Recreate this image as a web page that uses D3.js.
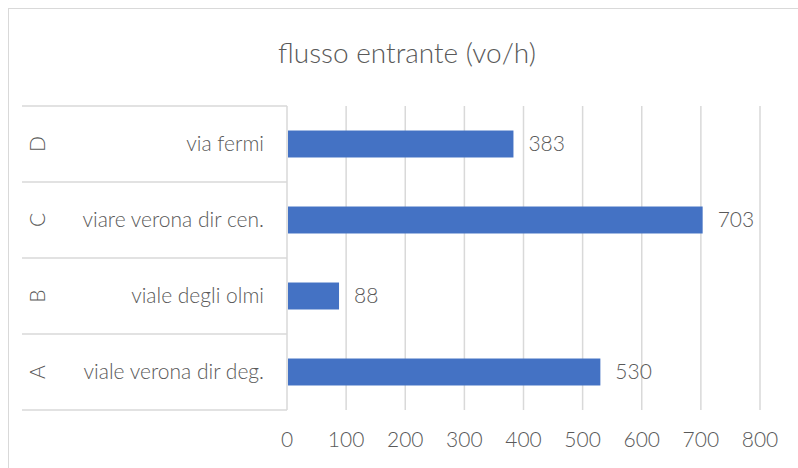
<!DOCTYPE html>
<html>
<head>
<meta charset="utf-8">
<script src="https://cdn.jsdelivr.net/npm/d3@7"></script>
<style>
  body { margin: 0; background: #fff; }
  text { font-family: Lato, "Open Sans", sans-serif; font-weight: 300; fill: #595959; }
</style>
</head>
<body>
<svg id="chart" width="798" height="468"></svg>
<script>
var groups = ["A", "B", "C", "D"];
var names = ["viale verona dir deg.", "viale degli olmi", "viare verona dir cen.", "via fermi"];
var values = [530, 88, 703, 383];
var ticks = [0, 100, 200, 300, 400, 500, 600, 700, 800];

var svg = d3.select("#chart");
var plotLeft = 287, plotRight = 760, plotTop = 106, plotBottom = 410, tableLeft = 22;

svg.append("rect")
    .attr("x", 8.5).attr("y", 8.5)
    .attr("width", 820).attr("height", 500)
    .attr("fill", "none")
    .attr("stroke", "#d9d9d9");

svg.append("text")
    .attr("x", 407).attr("y", 63)
    .attr("font-size", "28px")
    .style("text-anchor", "middle")
    .text("flusso entrante (vo/h)");

var x = d3.scaleLinear().domain([0, 800]).range([plotLeft, plotRight]);

var rows = groups.map((g, i) => ({ group: g, name: names[i], value: values[i] })).reverse();

var y = d3.scaleBand()
    .domain(rows.map(d => d.group))
    .range([plotTop, plotBottom])
    .paddingInner(0.645)
    .paddingOuter(0.3225);

var step = y.step();

// gridlines
svg.append("g")
  .selectAll("line")
  .data(ticks.slice(1))
  .enter()
  .append("line")
    .attr("x1", d => x(d)).attr("x2", d => x(d))
    .attr("y1", plotTop).attr("y2", plotBottom)
    .attr("stroke", "#d9d9d9")
    .attr("stroke-width", 1.5);

// category table lines
var edges = d3.range(rows.length + 1).map(i => plotTop + i * step);
svg.append("g")
  .selectAll("line")
  .data(edges)
  .enter()
  .append("line")
    .attr("x1", tableLeft).attr("x2", plotLeft)
    .attr("y1", d => d).attr("y2", d => d)
    .attr("stroke", "#d9d9d9")
    .attr("stroke-width", 1.5);

svg.append("line")
    .attr("x1", plotLeft).attr("x2", plotLeft)
    .attr("y1", plotTop).attr("y2", plotBottom)
    .attr("stroke", "#d9d9d9")
    .attr("stroke-width", 1.5);

// bars
svg.append("g")
  .selectAll("rect")
  .data(rows)
  .enter()
  .append("rect")
    .attr("x", x(0) + 1)
    .attr("y", d => y(d.group))
    .attr("width", d => x(d.value) - x(0) - 1)
    .attr("height", y.bandwidth())
    .attr("fill", "#4472c4");

// data labels
svg.append("g")
  .selectAll("text")
  .data(rows)
  .enter()
  .append("text")
    .attr("x", d => x(d.value) + 15)
    .attr("y", d => y(d.group) + y.bandwidth() / 2)
    .attr("dy", "0.35em")
    .attr("font-size", "21px")
    .text(d => d.value);

// category names
svg.append("g")
  .selectAll("text")
  .data(rows)
  .enter()
  .append("text")
    .attr("x", 264)
    .attr("y", d => y(d.group) + y.bandwidth() / 2)
    .attr("dy", "0.35em")
    .attr("font-size", "21px")
    .style("text-anchor", "end")
    .text(d => d.name);

// group letters, rotated
svg.append("g")
  .selectAll("text")
  .data(rows)
  .enter()
  .append("text")
    .attr("transform", d => "translate(38," + (y(d.group) + y.bandwidth() / 2) + ") rotate(-90)")
    .attr("dy", "0.35em")
    .attr("font-size", "21px")
    .style("text-anchor", "middle")
    .text(d => d.group);

// x tick labels
svg.append("g")
  .selectAll("text")
  .data(ticks)
  .enter()
  .append("text")
    .attr("x", d => x(d))
    .attr("y", 440)
    .attr("dy", "0.35em")
    .attr("font-size", "21px")
    .style("text-anchor", "middle")
    .text(d => d);
</script>
</body>
</html>
